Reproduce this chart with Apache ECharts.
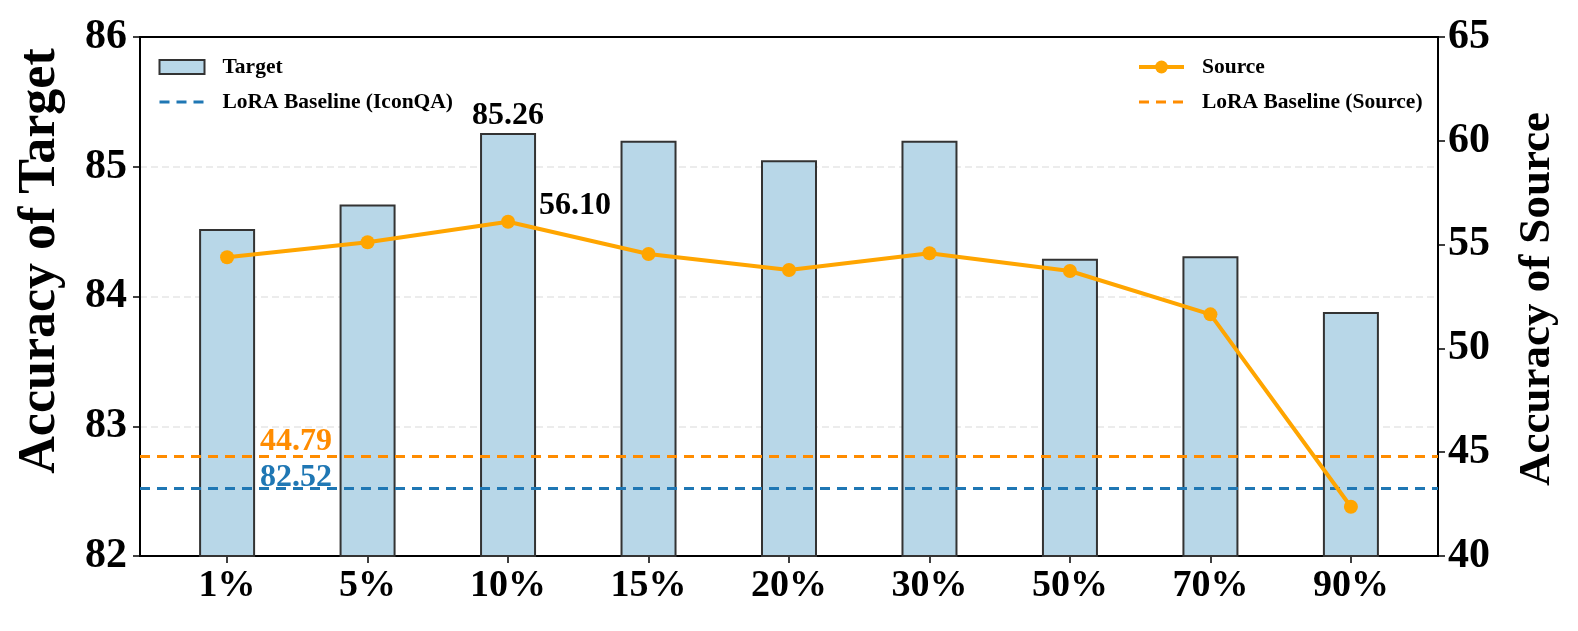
<!DOCTYPE html>
<html><head><meta charset="utf-8">
<script src="https://cdn.jsdelivr.net/npm/echarts@6.0.0/dist/echarts.min.js"></script>
<style>html,body{margin:0;padding:0;background:#fff;overflow:hidden}#c{width:1578px;height:631px}</style>
</head><body><div id="c"></div>
<script>
const categories = ['1%','5%','10%','15%','20%','30%','50%','70%','90%'];
const targetValues = [84.52,84.71,85.26,85.20,85.05,85.20,84.29,84.31,83.88];
const sourceValues = [54.39,55.11,56.10,54.55,53.78,54.58,53.73,51.64,42.37];
const baselineTarget = 82.52;
const baselineSource = 44.79;
const leftAxisRange = [82, 86, 1];
const rightAxisRange = [40, 65, 5];

const FONT = '"Liberation Serif", "Times New Roman", serif';
const BLUE = '#1f77b4';
const DORANGE = '#ff8c00';
const ORANGE = '#ffa500';
const DASH = [10, 7];
const catIdx = categories.map((_, i) => i);
const tMax = targetValues.indexOf(Math.max(...targetValues));
const sMax = sourceValues.indexOf(Math.max(...sourceValues));

const chart = echarts.init(document.getElementById('c'));
const legendText = {fontFamily: FONT, fontWeight: 'bold', fontSize: 21.5, color: '#000', lineHeight: 22, padding: [0,0,0,13]};
function yAxisBase(margin) {
  return {
    axisLine: {show: true, onZero: false, lineStyle: {color: '#000', width: 2}},
    axisTick: {show: true, length: 7, lineStyle: {color: '#000', width: 1.5}},
    axisLabel: {fontFamily: FONT, fontWeight: 'bold', fontSize: 42, color: '#000', margin: margin}
  };
}
chart.setOption({
  animation: false,
  backgroundColor: '#fff',
  grid: {left: 140, right: 140, top: 37, bottom: 75, show: true, borderColor: '#000', borderWidth: 2, backgroundColor: 'transparent'},
  legend: [
    {orient: 'vertical', left: 158, top: 56, padding: 0, itemWidth: 45, itemHeight: 14, itemGap: 13, align: 'left',
     data: [{name: 'Target', icon: 'rect'},
            {name: 'LoRA Baseline (IconQA)', itemStyle: {opacity: 0}, lineStyle: {width: 3, type: DASH}}],
     textStyle: legendText},
    {orient: 'vertical', left: 1137, top: 56, padding: 0, itemWidth: 45, itemHeight: 16, itemGap: 13, align: 'left',
     data: [{name: 'Source', lineStyle: {width: 4}},
            {name: 'LoRA Baseline (Source)', itemStyle: {opacity: 0}, lineStyle: {width: 3, type: DASH}}],
     textStyle: legendText}
  ],
  xAxis: [{
    type: 'value', min: -0.62, max: 8.62, position: 'bottom',
    axisLine: {show: true, onZero: false, lineStyle: {color: '#000', width: 2}},
    axisTick: {show: true, customValues: catIdx, length: 7, lineStyle: {color: '#000', width: 1.5}},
    axisLabel: {customValues: catIdx, formatter: v => categories[Math.round(v)], fontFamily: FONT, fontWeight: 'bold', fontSize: 38, color: '#000', margin: 11},
    splitLine: {show: false}
  }, {
    type: 'value', min: -0.62, max: 8.62, position: 'top',
    axisLine: {show: true, onZero: false, lineStyle: {color: '#000', width: 2}},
    axisTick: {show: false}, axisLabel: {show: false}, splitLine: {show: false}
  }],
  yAxis: [
    Object.assign({type: 'value', min: leftAxisRange[0], max: leftAxisRange[1], interval: leftAxisRange[2], position: 'left',
     splitLine: {show: true, lineStyle: {color: '#e6e6e6', type: [7, 4], width: 1.5}}}, yAxisBase(13)),
    Object.assign({type: 'value', min: rightAxisRange[0], max: rightAxisRange[1], interval: rightAxisRange[2], position: 'right',
     splitLine: {show: false}}, yAxisBase(10))
  ],
  graphic: [
    {type: 'text', x: 41, y: 261, rotation: Math.PI / 2, style: {text: 'Accuracy of Target', font: 'bold 52px ' + FONT, textAlign: 'center', textVerticalAlign: 'middle', fill: '#000'}},
    {type: 'text', x: 1537, y: 299, rotation: Math.PI / 2, style: {text: 'Accuracy of Source', font: 'bold 45px ' + FONT, textAlign: 'center', textVerticalAlign: 'middle', fill: '#000'}}
  ],
  series: [
    {name: 'Target', type: 'bar', yAxisIndex: 0, barWidth: 56, z: 2,
     itemStyle: {color: '#b8d7e8', borderColor: '#333', borderWidth: 2},
     label: {show: false, position: 'top', distance: 1, fontFamily: FONT, fontWeight: 'bold', fontSize: 32, color: '#000', formatter: p => p.value[1].toFixed(2)},
     data: targetValues.map((v, i) => ({value: [i, v], label: {show: i === tMax}}))},
    {name: 'LoRA Baseline (IconQA)', type: 'line', yAxisIndex: 0, symbol: 'none', z: 3,
     lineStyle: {color: BLUE, type: DASH, width: 3}, itemStyle: {color: BLUE}, data: [],
     markLine: {symbol: 'none', silent: true, animation: false,
       lineStyle: {color: BLUE, type: DASH, width: 3},
       label: {show: true, position: 'insideStartTop', distance: [120, -5], formatter: baselineTarget.toFixed(2), color: BLUE, fontFamily: FONT, fontWeight: 'bold', fontSize: 32},
       data: [{yAxis: baselineTarget}]}},
    {name: 'LoRA Baseline (Source)', type: 'line', yAxisIndex: 1, symbol: 'none', z: 3,
     lineStyle: {color: DORANGE, type: DASH, width: 3}, itemStyle: {color: DORANGE}, data: [],
     markLine: {symbol: 'none', silent: true, animation: false,
       lineStyle: {color: DORANGE, type: DASH, width: 3},
       label: {show: true, position: 'insideStartTop', distance: [120, -1], formatter: baselineSource.toFixed(2), color: DORANGE, fontFamily: FONT, fontWeight: 'bold', fontSize: 32},
       data: [{yAxis: baselineSource}]}},
    {name: 'Source', type: 'line', yAxisIndex: 1, z: 5, symbol: 'circle', symbolSize: 14,
     lineStyle: {color: ORANGE, width: 4}, itemStyle: {color: ORANGE},
     label: {show: false, position: 'right', distance: 24, offset: [0, -16], fontFamily: FONT, fontWeight: 'bold', fontSize: 32, color: '#000', formatter: p => p.value[1].toFixed(2)},
     data: sourceValues.map((v, i) => ({value: [i, v], label: {show: i === sMax}}))}
  ]
});
</script></body></html>
